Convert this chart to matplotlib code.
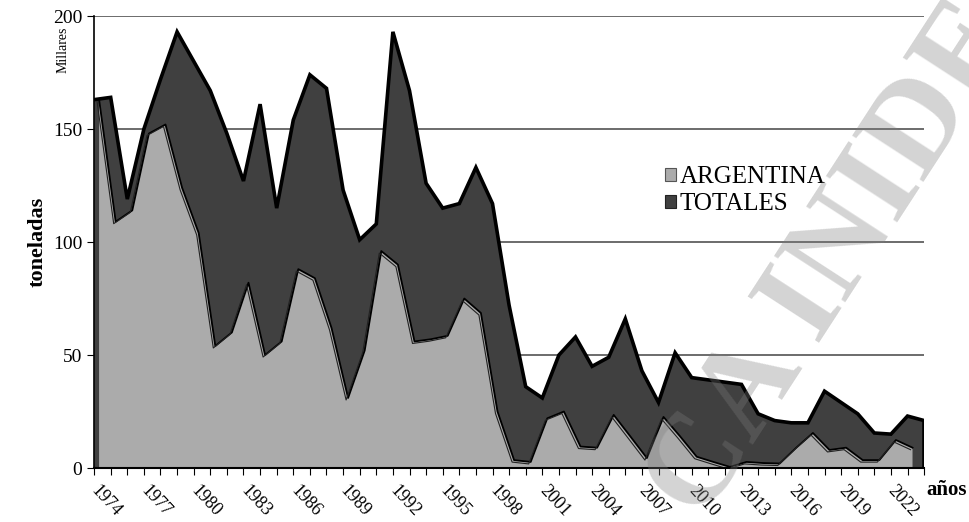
import matplotlib
matplotlib.use("Agg")
import matplotlib.pyplot as plt
from matplotlib.patches import Patch
from matplotlib import transforms

# capturas en miles de toneladas
years = list(range(1974, 2025))
totales = [163, 164, 119, 150, 172, 193, 180, 167, 148, 127,
           161, 115, 154, 174, 168, 123, 101, 108, 193, 167,
           126, 115, 117, 133, 117, 72, 36, 31, 50, 58,
           45, 49, 66, 43, 29, 51, 40, 39, 38, 37,
           24, 21, 20, 20, 34, 29, 24, 15.5, 15, 23,
           21]
years_arg = list(range(1974, 2024))
argentina = [163, 109, 114, 148, 152, 124, 104, 54, 60, 82,
             50, 56, 88, 84, 62, 31, 52, 96, 90, 56,
             57, 58.5, 75, 68.6, 25, 3.5, 2.7, 22, 25, 9.5,
             9, 23.5, 14, 4.4, 22.6, 14, 5, 2.7, 0.5, 2.7,
             2.2, 2, 9, 15.5, 8, 9, 3.5, 3.5, 12.4, 9]
tick_labels = [str(y) if (y - 1974) % 3 == 0 and y < 2024 else "" for y in years]

light = "#ababab"
dark = "#404040"

plt.rcParams["font.family"] = ["Liberation Serif", "DejaVu Serif"]

fig = plt.figure(figsize=(9.7, 5.22), dpi=100)
ax = fig.add_axes([0.097, 0.1034, 0.8557, 0.8659])

ax.fill_between(years, totales, 0, facecolor=dark, edgecolor="none", zorder=2)
ax.plot(years, totales, color="black", lw=2.6, zorder=3, solid_joinstyle="miter")
ax.plot([years[-1], years[-1]], [0, totales[-1]], color="black", lw=2.6, zorder=3)

# serie de adelante, corrida unos pixeles (efecto 3D)
shift = transforms.offset_copy(ax.transData, fig=fig, x=5, y=0, units="dots")
ax.fill_between(years_arg, argentina, 0, facecolor=light, edgecolor="none",
                zorder=4, transform=shift)
ax.plot(years_arg, argentina, color="black", lw=1.3, zorder=5, transform=shift)
shift2 = transforms.offset_copy(ax.transData, fig=fig, x=3, y=-2, units="dots")
ax.plot(years_arg, argentina, color="#222222", lw=0.8, zorder=5, transform=shift2)

ax.set_xlim(1974, 2024)
ax.set_ylim(0, 200)
ax.set_yticks([0, 50, 100, 150, 200])
ax.set_xticks(years)
ax.set_xticklabels(tick_labels, rotation=-47, ha="left", va="center",
                   rotation_mode="anchor", fontsize=13)
ax.tick_params(axis="y", labelsize=14, length=5, direction="out")
ax.tick_params(axis="x", length=5, direction="out", pad=9)
for v in [50, 100, 150, 200]:
    ax.axhline(v, color="#444444", lw=1.1, zorder=1)
for s in ["top", "right"]:
    ax.spines[s].set_visible(False)
ax.spines["left"].set_linewidth(1.2)
ax.spines["bottom"].set_linewidth(1.5)
ax.spines["bottom"].set_zorder(6)

ax.set_ylabel("toneladas", fontsize=16, fontweight="bold", labelpad=4)
ax.text(-0.038, 0.925, "Millares", transform=ax.transAxes, rotation=90,
        fontsize=10, ha="center", va="center")
fig.text(0.976, 0.061, "años", fontsize=15, fontweight="bold", ha="center", va="center")

handles = [Patch(facecolor=light, edgecolor="#555555", lw=0.8),
           Patch(facecolor=dark, edgecolor="#222222", lw=0.8)]
ax.legend(handles, ["ARGENTINA", "TOTALES"], loc="upper left",
          bbox_to_anchor=(0.688, 0.668), frameon=False, fontsize=18,
          handlelength=0.42, handleheight=0.42, handletextpad=0.15,
          labelspacing=0.2, borderpad=0, borderaxespad=0)

# marca de agua
fig.text(0.883, 0.563, "CA INIDEP", fontsize=93, fontweight="bold", rotation=57,
         color="#7c7c7c", alpha=0.33, ha="center", va="center", zorder=10)

fig.savefig("out.png", dpi=100)
